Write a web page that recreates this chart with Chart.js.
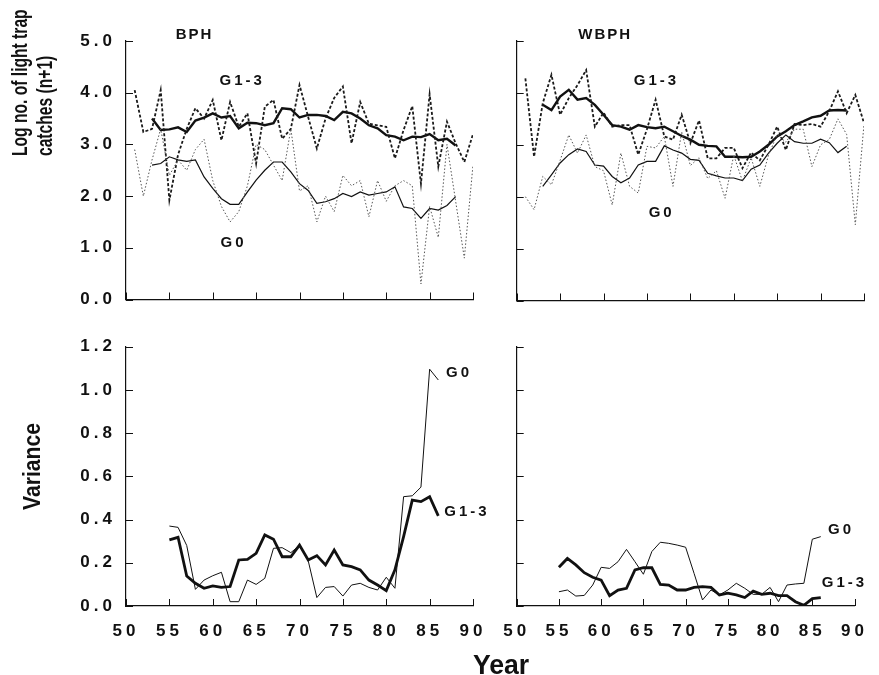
<!DOCTYPE html>
<html>
<head>
<meta charset="utf-8">
<script src="https://cdn.jsdelivr.net/npm/chart.js@4.4.1/dist/chart.umd.min.js"></script>
<style>
  html, body { margin: 0; padding: 0; background: #fff; }
  #page { position: relative; width: 879px; height: 675px; overflow: hidden; }
  #page canvas { position: absolute; left: 0; top: 0; }
  .title { position: absolute; font-family: "Liberation Sans", Arial, sans-serif;
           font-weight: bold; color: #111; white-space: nowrap; }
  .ylab { transform-origin: 0 0; text-align: left; }
</style>
</head>
<body>
<div id="page">
  <canvas id="bphTop" width="879" height="675"></canvas>
  <canvas id="wbphTop" width="879" height="675"></canvas>
  <canvas id="bphVar" width="879" height="675"></canvas>
  <canvas id="wbphVar" width="879" height="675"></canvas>
  <div class="title ylab" style="left:7px; top:156px; font-size:22px; line-height:25px; transform:rotate(-90deg) scaleX(0.71);">Log no. of light trap<br>catches (n+1)</div>
  <div class="title ylab" style="left:19px; top:510px; font-size:23px; line-height:26px; transform:rotate(-90deg) scaleX(0.92);">Variance</div>
  <div class="title" style="left:501px; top:665px; transform:translate(-50%,-50%) scaleX(0.95); font-size:28px;">Year</div>
</div>
<script>
// years
const annualYears = [51, 52, 53, 54, 55, 56, 57, 58, 59, 60, 61, 62, 63, 64, 65, 66, 67, 68, 69, 70,
  71, 72, 73, 74, 75, 76, 77, 78, 79, 80, 81, 82, 83, 84, 85, 86, 87, 88, 89, 90];
const maYears = [53, 54, 55, 56, 57, 58, 59, 60, 61, 62, 63, 64, 65, 66, 67, 68, 69, 70,
  71, 72, 73, 74, 75, 76, 77, 78, 79, 80, 81, 82, 83, 84, 85, 86, 87, 88];
const varYears = [55, 56, 57, 58, 59, 60, 61, 62, 63, 64, 65, 66, 67, 68, 69, 70,
  71, 72, 73, 74, 75, 76, 77, 78, 79, 80, 81, 82, 83, 84, 85, 86];

// BPH log catches
const bphG13 = [4.05, 3.24, 3.3, 4.05, 1.92, 2.8, 3.3, 3.7, 3.5, 3.86, 3.08, 3.82, 3.34, 3.6, 2.63, 3.73, 3.86, 3.11, 3.3, 4.15,
  3.53, 2.92, 3.5, 3.9, 4.12, 3.02, 3.82, 3.4, 3.37, 3.34, 2.73, 3.28, 3.74, 2.24, 3.97, 2.57, 3.44, 3.02, 2.66, 3.2];
const bphG0 = [2.9, 2.0, 2.7, 3.3, 2.4, 2.7, 2.5, 2.9, 3.1, 2.3, 1.8, 1.5, 1.7, 2.2, 3.0, 2.9, 2.6, 2.3, 3.3, 2.1,
  2.2, 1.5, 2.0, 1.7, 2.4, 2.2, 2.3, 1.6, 2.3, 1.9, 2.2, 2.3, 2.2, 0.3, 1.8, 1.2, 3.0, 1.9, 0.8, 2.6];
const bphMaG13 = [3.5, 3.28, 3.29, 3.33, 3.24, 3.46, 3.52, 3.6, 3.52, 3.55, 3.31, 3.42, 3.41, 3.37, 3.41, 3.7, 3.68, 3.52,
  3.57, 3.57, 3.55, 3.47, 3.63, 3.6, 3.5, 3.37, 3.31, 3.18, 3.15, 3.08, 3.15, 3.14, 3.2, 3.08, 3.11, 2.98];
const bphMaG0 = [2.6, 2.63, 2.76, 2.7, 2.67, 2.7, 2.37, 2.15, 1.95, 1.84, 1.84, 2.08, 2.31, 2.5, 2.66, 2.66, 2.47, 2.24,
  2.11, 1.86, 1.89, 1.95, 2.05, 1.99, 2.08, 2.02, 2.05, 2.08, 2.18, 1.79, 1.76, 1.57, 1.76, 1.73, 1.82, 1.99];

// WBPH log catches
const wbphG13 = [4.28, 2.77, 3.8, 4.35, 3.58, 3.9, 4.15, 4.44, 3.35, 3.62, 3.35, 3.38, 3.38, 2.81, 3.3, 3.87, 3.16, 3.1, 3.58, 3.03,
  3.47, 2.74, 2.74, 2.94, 2.94, 2.55, 2.85, 2.7, 3.0, 3.35, 2.9, 3.4, 3.38, 3.4, 3.35, 3.65, 4.03, 3.61, 3.96, 3.42];
const wbphG0 = [2.0, 1.75, 2.39, 2.23, 2.7, 3.19, 2.84, 3.19, 2.58, 2.5, 1.84, 2.84, 2.2, 2.07, 2.97, 2.94, 3.16, 2.2, 3.25, 2.6,
  2.75, 2.35, 2.5, 1.97, 2.8, 2.3, 2.75, 2.2, 2.8, 3.2, 3.05, 3.3, 3.3, 2.58, 3.0, 3.1, 3.5, 3.2, 1.46, 3.4];
const wbphMaG13 = [3.77, 3.67, 3.93, 4.06, 3.87, 3.9, 3.77, 3.58, 3.38, 3.35, 3.29, 3.38, 3.34, 3.32, 3.35, 3.26, 3.17, 3.1,
  3.0, 2.98, 2.97, 2.77, 2.77, 2.76, 2.77, 2.87, 3.0, 3.16, 3.26, 3.38, 3.45, 3.53, 3.56, 3.66, 3.67, 3.66];
const wbphMaG0 = [2.2, 2.42, 2.65, 2.81, 2.92, 2.87, 2.61, 2.59, 2.39, 2.27, 2.36, 2.61, 2.68, 2.68, 2.98, 2.9, 2.84, 2.72,
  2.7, 2.45, 2.4, 2.36, 2.36, 2.31, 2.53, 2.61, 2.84, 3.03, 3.19, 3.06, 3.03, 3.03, 3.11, 3.04, 2.85, 2.97];

// variance
const bphVarG0 = [0.37, 0.364, 0.28, 0.077, 0.12, 0.14, 0.156, 0.02, 0.02, 0.12, 0.1, 0.128, 0.267, 0.27, 0.247, 0.28,
  0.21, 0.039, 0.086, 0.09, 0.046, 0.097, 0.105, 0.086, 0.074, 0.133, 0.082, 0.506, 0.51, 0.55, 1.096, 1.046];
const bphVarG13 = [0.306, 0.318, 0.139, 0.105, 0.082, 0.093, 0.086, 0.09, 0.213, 0.216, 0.244, 0.329, 0.309, 0.228, 0.228, 0.282,
  0.213, 0.233, 0.19, 0.259, 0.19, 0.182, 0.167, 0.12, 0.097, 0.071, 0.167, 0.321, 0.49, 0.483, 0.506, 0.417];
const wbphVarG0 = [0.066, 0.074, 0.046, 0.049, 0.097, 0.179, 0.174, 0.205, 0.262, 0.205, 0.147, 0.252, 0.295, 0.29, 0.282, 0.272,
  0.151, 0.028, 0.074, 0.051, 0.074, 0.105, 0.082, 0.054, 0.054, 0.086, 0.02, 0.097, 0.102, 0.105, 0.309, 0.321];
const wbphVarG13 = [0.179, 0.22, 0.19, 0.154, 0.133, 0.12, 0.048, 0.074, 0.082, 0.167, 0.177, 0.177, 0.1, 0.097, 0.074, 0.074,
  0.086, 0.09, 0.086, 0.051, 0.059, 0.051, 0.039, 0.069, 0.054, 0.059, 0.048, 0.048, 0.02, 0.003, 0.034, 0.039];

const logTicks = [0, 1, 2, 3, 4, 5];
const varTicks = [0, 0.2, 0.4, 0.6, 0.8, 1.0, 1.2];
const yearTicks = [50, 55, 60, 65, 70, 75, 80, 85, 90];

const INK = "#111";
const FONT = "'Liberation Sans', Arial, sans-serif";

function pts(xs, ys) {
  return xs.map((x, i) => ({ x, y: ys[i] }));
}

// axis ticks point into the plot, like the printed figure
const inwardTicks = {
  id: "inwardTicks",
  afterDraw(chart) {
    const { ctx, chartArea: a, scales } = chart;
    ctx.save();
    ctx.strokeStyle = INK;
    ctx.lineWidth = 1;
    ctx.beginPath();
    scales.x.ticks.forEach((t) => {
      const px = Math.round(scales.x.getPixelForValue(t.value)) + 0.5;
      ctx.moveTo(px, a.bottom);
      ctx.lineTo(px, a.bottom - 7);
    });
    scales.y.ticks.forEach((t) => {
      const py = Math.round(scales.y.getPixelForValue(t.value)) + 0.5;
      ctx.moveTo(a.left, py);
      ctx.lineTo(a.left + 7, py);
    });
    ctx.stroke();
    ctx.restore();
  },
};

// panel and curve names, placed in data units
const panelText = {
  id: "panelText",
  beforeDraw(chart) {
    chart.ctx.letterSpacing = "4px";
  },
  afterDraw(chart, args, opts) {
    const { ctx, scales } = chart;
    ctx.save();
    ctx.fillStyle = INK;
    ctx.textAlign = "center";
    ctx.textBaseline = "middle";
    (opts.items || []).forEach((it) => {
      ctx.font = `bold ${it.size || 15}px ${FONT}`;
      ctx.letterSpacing = (it.spacing ?? 3) + "px";
      ctx.fillText(it.text, scales.x.getPixelForValue(it.x), scales.y.getPixelForValue(it.y));
    });
    ctx.restore();
  },
};

function makePanel(canvasId, area, cfg) {
  const { datasets, yMax, showX, showY, labels } = cfg;
  return new Chart(document.getElementById(canvasId), {
    type: "line",
    data: { datasets },
    plugins: [inwardTicks, panelText],
    options: {
      responsive: false,
      animation: false,
      events: [],
      layout: {
        padding: { left: 0, top: area.top, right: 879 - area.right, bottom: 0 },
      },
      elements: { point: { radius: 0 }, line: { tension: 0 } },
      plugins: {
        legend: { display: false },
        tooltip: { enabled: false },
        panelText: { items: labels },
      },
      scales: {
        x: {
          type: "linear",
          min: 50,
          max: 90,
          afterFit(scale) { scale.height = 675 - area.bottom; },
          afterBuildTicks(scale) { scale.ticks = yearTicks.map((v) => ({ value: v })); },
          grid: { display: false, drawTicks: false },
          border: { display: true, color: INK, width: 1.2 },
          ticks: {
            display: showX,
            padding: 15,
            color: INK,
            maxRotation: 0,
            autoSkip: false,
            font: { family: FONT, weight: "bold", size: 17 },
            callback: (v) => String(v),
          },
        },
        y: {
          min: 0,
          max: yMax,
          afterFit(scale) { scale.width = area.left; },
          afterBuildTicks(scale) {
            scale.ticks = (yMax > 2 ? logTicks : varTicks).map((v) => ({ value: v }));
          },
          grid: { display: false, drawTicks: false },
          border: { display: true, color: INK, width: 1.2 },
          ticks: {
            display: showY,
            padding: 10,
            color: INK,
            autoSkip: false,
            font: { family: FONT, weight: "bold", size: 17 },
            callback: (v) => Number(v).toFixed(1),
          },
        },
      },
    },
  });
}

function annualSet(xs, ys, heavy) {
  return {
    data: pts(xs, ys),
    borderColor: heavy ? "#1a1a1a" : "#555",
    borderWidth: heavy ? 1.8 : 1,
    borderDash: heavy ? [3, 2] : [1.5, 2],
  };
}
function solidSet(xs, ys, width) {
  return { data: pts(xs, ys), borderColor: INK, borderWidth: width };
}

makePanel("bphTop", { left: 126, top: 41, right: 473, bottom: 299.5 }, {
  yMax: 5, showX: false, showY: true,
  datasets: [
    annualSet(annualYears, bphG0, false),
    annualSet(annualYears, bphG13, true),
    solidSet(maYears, bphMaG0, 1.2),
    solidSet(maYears, bphMaG13, 2.4),
  ],
  labels: [
    { text: "BPH", x: 57.9, y: 5.11, size: 15, spacing: 2 },
    { text: "G1-3", x: 63.4, y: 4.23, size: 15 },
    { text: "G0", x: 62.4, y: 1.1, size: 15 },
  ],
});

makePanel("wbphTop", { left: 516.7, top: 41, right: 864, bottom: 300.5 }, {
  yMax: 5, showX: false, showY: false,
  datasets: [
    annualSet(annualYears, wbphG0, false),
    annualSet(annualYears, wbphG13, true),
    solidSet(maYears, wbphMaG0, 1.2),
    solidSet(maYears, wbphMaG13, 2.4),
  ],
  labels: [
    { text: "WBPH", x: 60.2, y: 5.12, size: 15, spacing: 2 },
    { text: "G1-3", x: 66.1, y: 4.23, size: 15 },
    { text: "G0", x: 66.7, y: 1.68, size: 15 },
  ],
});

makePanel("bphVar", { left: 126, top: 346.7, right: 473, bottom: 606 }, {
  yMax: 1.2, showX: true, showY: true,
  datasets: [
    solidSet(varYears, bphVarG0, 1),
    solidSet(varYears, bphVarG13, 2.8),
  ],
  labels: [
    { text: "G0", x: 88.4, y: 1.08, size: 15 },
    { text: "G1-3", x: 89.3, y: 0.435, size: 15 },
  ],
});

makePanel("wbphVar", { left: 516.7, top: 346.7, right: 864, bottom: 606 }, {
  yMax: 1.2, showX: true, showY: false,
  datasets: [
    solidSet(varYears, wbphVarG0, 1),
    solidSet(varYears, wbphVarG13, 2.8),
  ],
  labels: [
    { text: "G0", x: 88.4, y: 0.352, size: 15 },
    { text: "G1-3", x: 88.8, y: 0.108, size: 15 },
  ],
});
</script>
</body>
</html>
